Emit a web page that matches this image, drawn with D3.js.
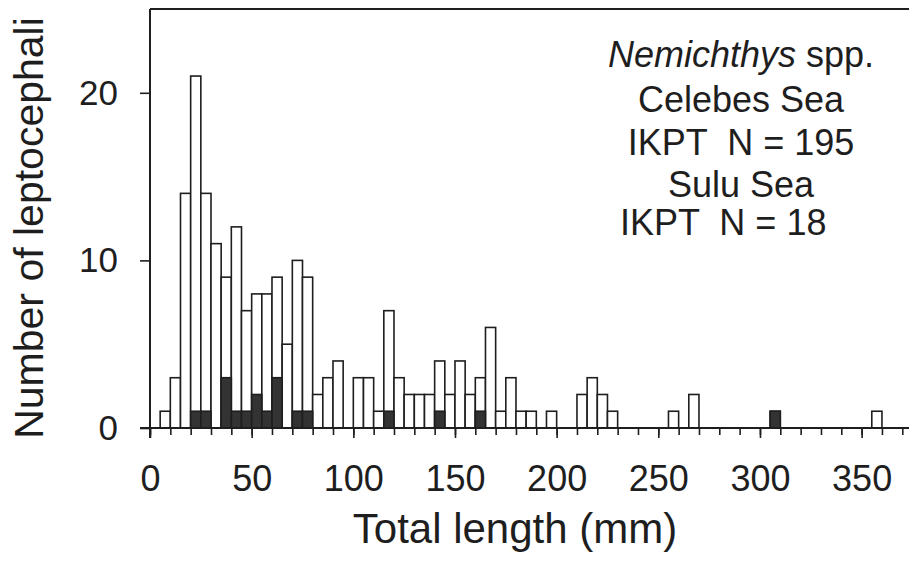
<!DOCTYPE html>
<html>
<head>
<meta charset="utf-8">
<script src="https://cdn.jsdelivr.net/npm/d3@7"></script>
<style>
	body { margin: 0; background: #fff; }
	svg text { font-family: "Liberation Sans", Arial, sans-serif; fill: #1e1e1e; }
</style>
</head>
<body>
<div id="chart"></div>
<script>
// 5 mm length classes (start of class), only classes with fish
var binStart = [5, 10, 15, 20, 25, 30, 35, 40, 45, 50, 55, 60, 65, 70, 75, 80, 85, 90,
	100, 105, 110, 115, 120, 125, 130, 135, 140, 145, 150, 155, 160, 165, 170, 175, 180, 185,
	195, 210, 215, 220, 225, 255, 265, 305, 355];
// Celebes Sea counts (white part)
var celebes = [1, 3, 14, 20, 13, 11, 6, 11, 6, 6, 7, 6, 5, 9, 8, 2, 3, 4,
	3, 3, 1, 6, 3, 2, 2, 2, 3, 2, 4, 2, 2, 6, 1, 3, 1, 1,
	1, 2, 3, 2, 1, 1, 2, 0, 1];
// Sulu Sea counts (black part)
var sulu = [0, 0, 0, 1, 1, 0, 3, 1, 1, 2, 1, 3, 0, 1, 1, 0, 0, 0,
	0, 0, 0, 1, 0, 0, 0, 0, 1, 0, 0, 0, 1, 0, 0, 0, 0, 0,
	0, 0, 0, 0, 0, 0, 0, 1, 0];

var xTicksMinor = d3.range(0, 371, 10);
var xTicksMajor = [0, 50, 100, 150, 200, 250, 300, 350];
var yTicks = [0, 10, 20];

var binWidth = 5;

var width = 909, height = 564;

var svg = d3.select("#chart").append("svg")
	.attr("width", width)
	.attr("height", height);

var x = d3.scaleLinear().domain([0, 373.3]).range([150, 909]);
var y = d3.scaleLinear().domain([0, 25]).range([428, 9]);

// bars: total outline, Sulu part stacked at the bottom
var bars = binStart.map(function(d, i){
	return { x0: d, sulu: sulu[i], total: sulu[i] + celebes[i] };
});

svg.append("g").selectAll("rect")
	.data(bars)
	.enter().append("rect")
	.attr("x", function(d){ return x(d.x0); })
	.attr("y", function(d){ return y(d.total); })
	.attr("width", function(d){ return x(d.x0 + binWidth) - x(d.x0); })
	.attr("height", function(d){ return y(0) - y(d.total); })
	.attr("fill", "#fff")
	.attr("stroke", "#1e1e1e")
	.attr("stroke-width", 1.6);

svg.append("g").selectAll("rect")
	.data(bars.filter(function(d){ return d.sulu > 0; }))
	.enter().append("rect")
	.attr("x", function(d){ return x(d.x0); })
	.attr("y", function(d){ return y(d.sulu); })
	.attr("width", function(d){ return x(d.x0 + binWidth) - x(d.x0); })
	.attr("height", function(d){ return y(0) - y(d.sulu); })
	.attr("fill", "#333")
	.attr("stroke", "#1e1e1e")
	.attr("stroke-width", 1.6);

// frame top line
svg.append("line")
	.attr("x1", x(0)).attr("x2", width)
	.attr("y1", y(25)).attr("y2", y(25))
	.attr("stroke", "#1e1e1e").attr("stroke-width", 1.8);

// x axis, minor ticks then major ticks with labels
var xMinor = svg.append("g")
	.attr("transform", "translate(0," + y(0) + ")")
	.call(d3.axisBottom(x).tickValues(xTicksMinor).tickSize(7).tickFormat(""));
xMinor.select(".domain").remove();

var xAxis = svg.append("g")
	.attr("transform", "translate(0," + y(0) + ")")
	.call(d3.axisBottom(x).tickValues(xTicksMajor).tickSize(10).tickPadding(27).tickFormat(d3.format("d")));
xAxis.select(".domain").remove();
xAxis.selectAll("text").style("font-size", "36px").attr("font-family", null);

svg.append("line")
	.attr("x1", x(0) - 10).attr("x2", width)
	.attr("y1", y(0)).attr("y2", y(0))
	.attr("stroke", "#1e1e1e").attr("stroke-width", 2);

// y axis
var yAxis = svg.append("g")
	.attr("transform", "translate(" + x(0) + ",0)")
	.call(d3.axisLeft(y).tickValues(yTicks).tickSize(10).tickPadding(22));
yAxis.select(".domain").remove();
yAxis.selectAll("text").style("font-size", "35px").attr("font-family", null);

svg.selectAll(".tick line").attr("stroke", "#1e1e1e").attr("stroke-width", 1.6);

svg.append("line")
	.attr("x1", x(0)).attr("x2", x(0))
	.attr("y1", y(25)).attr("y2", y(0) + 10)
	.attr("stroke", "#1e1e1e").attr("stroke-width", 2);

// axis titles
svg.append("text")
	.attr("x", 515).attr("y", 543)
	.attr("text-anchor", "middle")
	.style("font-size", "42px")
	.text("Total length (mm)");

svg.append("text")
	.attr("transform", "translate(43,228) rotate(-90)")
	.attr("text-anchor", "middle")
	.style("font-size", "41px")
	.text("Number of leptocephali");

// annotation
var note = svg.append("g").style("font-size", "36px");
var t1 = note.append("text").attr("x", 741).attr("y", 67).attr("text-anchor", "middle");
t1.append("tspan").style("font-style", "italic").text("Nemichthys");
t1.append("tspan").text(" spp.");
note.append("text").attr("x", 741).attr("y", 112).attr("text-anchor", "middle").text("Celebes Sea");
note.append("text").attr("x", 741).attr("y", 155).attr("text-anchor", "middle")
	.attr("xml:space", "preserve").style("white-space", "pre").text("IKPT  N = 195");
note.append("text").attr("x", 741).attr("y", 197).attr("text-anchor", "middle").text("Sulu Sea");
note.append("text").attr("x", 620).attr("y", 235)
	.style("white-space", "pre").text("IKPT  N = 18");
</script>
</body>
</html>
